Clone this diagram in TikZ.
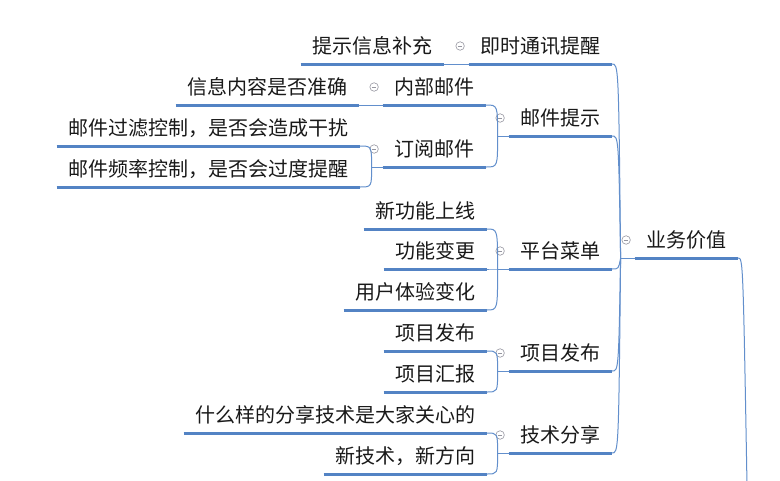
\documentclass[tikz,border=0pt]{standalone}
\usepackage{fontspec}
\newfontfamily\cjk{Noto Sans CJK SC}
\usetikzlibrary{calc}
\definecolor{lineblue}{RGB}{83,131,196}
\definecolor{connblue}{RGB}{98,143,204}
\definecolor{txt}{RGB}{25,25,25}
\definecolor{sign}{RGB}{150,150,160}
\tikzset{
  topic/.style={font=\cjk\fontsize{20}{24}\selectfont, text=txt, inner xsep=11.5pt,
    inner ysep=10pt, text height=16pt, text depth=0pt, anchor=south east},
  uline/.style={draw=lineblue, line width=3pt},
  conn/.style={draw=connblue, line width=1pt},
  collapse/.style={circle, draw=sign, line width=0.6pt, minimum size=8.5pt, inner sep=0pt,
    path picture={\draw[sign, line width=0.6pt] ([xshift=2pt]path picture bounding box.west) -- ([xshift=-2pt]path picture bounding box.east);}}
}
\begin{document}
\begin{tikzpicture}[x=1pt,y=-1pt]
\fill[white] (0,0) rectangle (780,480);
\useasboundingbox (0,0) rectangle (780,480);
% level 1
\node[topic] (biz) at (738,258) {业务价值};
% level 2
\node[topic] (im) at (612,64) {即时通讯提醒};
\node[topic] (mail) at (612,136) {邮件提示};
\node[topic] (menu) at (612,269) {平台菜单};
\node[topic] (proj) at (612,371) {项目发布};
\node[topic] (tech) at (612,453) {技术分享};
% level 3
\node[topic] (tip) at (444,64) {提示信息补充};
\node[topic] (inner) at (486,105) {内部邮件};
\node[topic] (sub) at (486,167) {订阅邮件};
\node[topic] (newf) at (487,229) {新功能上线};
\node[topic] (chg) at (487,269) {功能变更};
\node[topic] (ux) at (487,310) {用户体验变化};
\node[topic] (pub) at (487,351) {项目发布};
\node[topic] (rep) at (487,392) {项目汇报};
\node[topic] (what) at (487,433) {什么样的分享技术是大家关心的};
\node[topic] (newt) at (487,474) {新技术，新方向};
% level 4
\node[topic] (acc) at (359,105) {信息内容是否准确};
\node[topic] (filt) at (360,146) {邮件过滤控制，是否会造成干扰};
\node[topic] (freq) at (360,187) {邮件频率控制，是否会过度提醒};
% underlines
\foreach \n in {biz,im,mail,menu,proj,tech,tip,inner,sub,newf,chg,ux,pub,rep,what,newt,acc,filt,freq}
  \draw[uline] (\n.south west) -- (\n.south east);
% collapse signs
\foreach \n in {biz,im,mail,menu,proj,tech,inner,sub}
  \node[collapse] (c-\n) at ($(\n.south west)+(-8.5,-18)$) {};
% junctions
\coordinate (j0) at ($(biz.south west)+(-14,0)$);
\coordinate (jmail) at ($(mail.south west)+(-11,0)$);
\coordinate (jmenu) at ($(menu.south west)+(-11,0)$);
\coordinate (jproj) at ($(proj.south west)+(-11,0)$);
\coordinate (jtech) at ($(tech.south west)+(-11,0)$);
\coordinate (jsub) at ($(sub.south west)+(-11,0)$);
\coordinate (root) at (747,485);
% root link
\draw[conn] (biz.south east) .. controls (743,258) .. (root);
% trunk
\draw[conn] (j0) -- (biz.south west);
\foreach \n in {im,mail,menu,proj,tech}
  \draw[conn] (j0) .. controls ($(j0 |- \n.south east)+(-2,0)$) .. (\n.south east);
% level 2 -> 3
\draw[conn] (tip.south east) -- (im.south west);
\draw[conn] (jmail) -- (mail.south west);
\foreach \n in {inner,sub} \draw[conn] (jmail) .. controls (jmail |- \n.south east) .. (\n.south east);
\draw[conn] (jmenu) -- (menu.south west);
\foreach \n in {newf,chg,ux} \draw[conn] (jmenu) .. controls (jmenu |- \n.south east) .. (\n.south east);
\draw[conn] (jproj) -- (proj.south west);
\foreach \n in {pub,rep} \draw[conn] (jproj) .. controls (jproj |- \n.south east) .. (\n.south east);
\draw[conn] (jtech) -- (tech.south west);
\foreach \n in {what,newt} \draw[conn] (jtech) .. controls (jtech |- \n.south east) .. (\n.south east);
% level 3 -> 4
\draw[conn] (acc.south east) -- (inner.south west);
\draw[conn] (jsub) -- (sub.south west);
\foreach \n in {filt,freq} \draw[conn] (jsub) .. controls (jsub |- \n.south east) .. (\n.south east);
\end{tikzpicture}
\end{document}
